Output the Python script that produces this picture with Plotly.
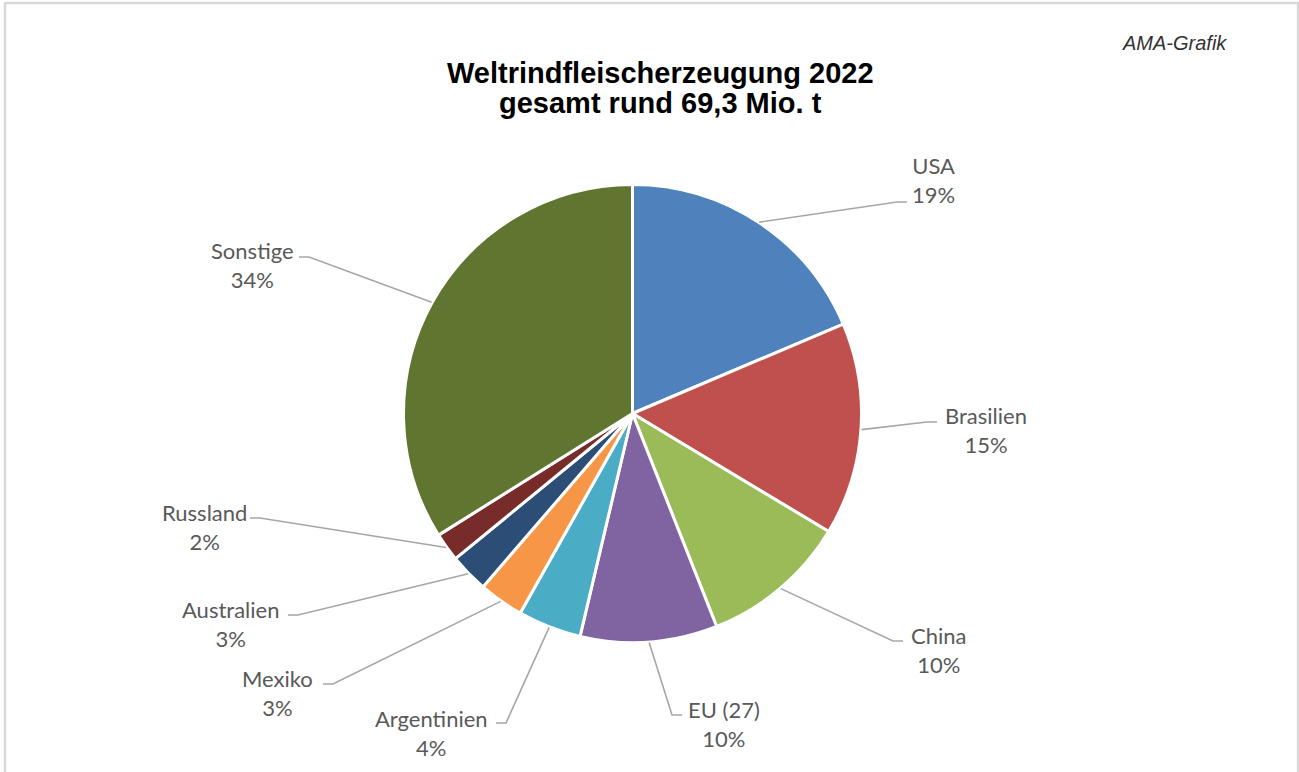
import math
import plotly.graph_objects as go

# ---- data (Mio. t) ----
countries = ["USA", "Brasilien", "China", "EU (27)", "Argentinien",
             "Mexiko", "Australien", "Russland", "Sonstige"]
production = [12.9, 10.4, 7.2, 6.7, 3.1, 2.2, 1.9, 1.4, 23.5]
colors = ["#4F81BD", "#C0504D", "#9BBB59", "#8064A2", "#4BACC6",
          "#F79646", "#2C4D75", "#772C2A", "#5F7530"]
title_lines = ["Weltrindfleischerzeugung 2022", "gesamt rund 69,3 Mio. t"]
source_note = "AMA-Grafik"

# ---- layout / style (pixels) ----
W, H = 1299, 772
CX, CY, R = 632.5, 413.5, 228.5
# label block centre (x, y), elbow point (x, y), direction of short horizontal tick
label_style = {
    "USA":         (933, 180, 897, 202, +1),
    "Brasilien":   (986, 430, 927, 422, +1),
    "China":       (938, 650, 893, 641, +1),
    "EU (27)":     (724, 724, 672, 715, +1),
    "Argentinien": (432, 733, 506, 723, -1),
    "Mexiko":      (277, 693, 333, 684, -1),
    "Australien":  (230, 624, 298, 615, -1),
    "Russland":    (204, 527, 260, 518, -1),
    "Sonstige":    (252, 265, 309, 257, -1),
}

def px(x):
    return x / W

def py(y):
    return 1 - y / H

DOM_R = R + 0.5
fig = go.Figure(go.Pie(
    labels=countries,
    values=production,
    sort=False,
    direction="clockwise",
    rotation=0,
    marker=dict(colors=colors, line=dict(color="white", width=3)),
    textinfo="none",
    hoverinfo="label+percent+value",
    showlegend=False,
    domain=dict(x=[px(CX - DOM_R), px(CX + DOM_R)], y=[py(CY + DOM_R), py(CY - DOM_R)]),
))

total = sum(production)
shapes = []
annotations = []
cum = 0.0
for name, val in zip(countries, production):
    mid = (cum + val / 2) / total * 2 * math.pi
    cum += val
    ax = CX + (R + 1) * math.sin(mid)
    ay = CY - (R + 1) * math.cos(mid)
    lx, ly, ex, ey, d = label_style[name]
    path = (f"M {px(ax)},{py(ay)} L {px(ex)},{py(ey)} "
            f"L {px(ex + d * 10)},{py(ey)}")
    shapes.append(dict(type="path", xref="paper", yref="paper", path=path,
                       line=dict(color="#A6A6A6", width=1.6)))
    pct = round(val / total * 100)
    annotations.append(dict(
        x=px(lx), y=py(ly), xref="paper", yref="paper",
        text=f"{name}<br>{pct}%", showarrow=False,
        xanchor="center", yanchor="middle", align="center",
        font=dict(family="Lato", size=22, color="#595959"),
    ))

for line, yy in zip(title_lines, [73, 103]):
    annotations.append(dict(
        x=px(660), y=py(yy), xref="paper", yref="paper", text=f"<b>{line}</b>",
        showarrow=False, xanchor="center", yanchor="middle",
        font=dict(family="Liberation Sans, Arial", size=29, color="#000000"),
    ))

annotations.append(dict(
    x=px(1174), y=py(43), xref="paper", yref="paper", text=f"<i>{source_note}</i>",
    showarrow=False, xanchor="center", yanchor="middle",
    font=dict(family="Liberation Sans, Arial", size=20, color="#333333"),
))

# outer frame
shapes.append(dict(type="rect", xref="paper", yref="paper",
                   x0=px(5), x1=px(1298), y0=py(790), y1=py(3),
                   line=dict(color="#D9D9D9", width=2.5), fillcolor="rgba(0,0,0,0)"))

fig.update_layout(
    width=W, height=H,
    margin=dict(l=0, r=0, t=0, b=0),
    paper_bgcolor="white", plot_bgcolor="white",
    shapes=shapes, annotations=annotations,
)

fig.write_html("out.html", config={"displayModeBar": False},
               post_script="document.body.style.margin='0';document.body.style.overflow='hidden';")
